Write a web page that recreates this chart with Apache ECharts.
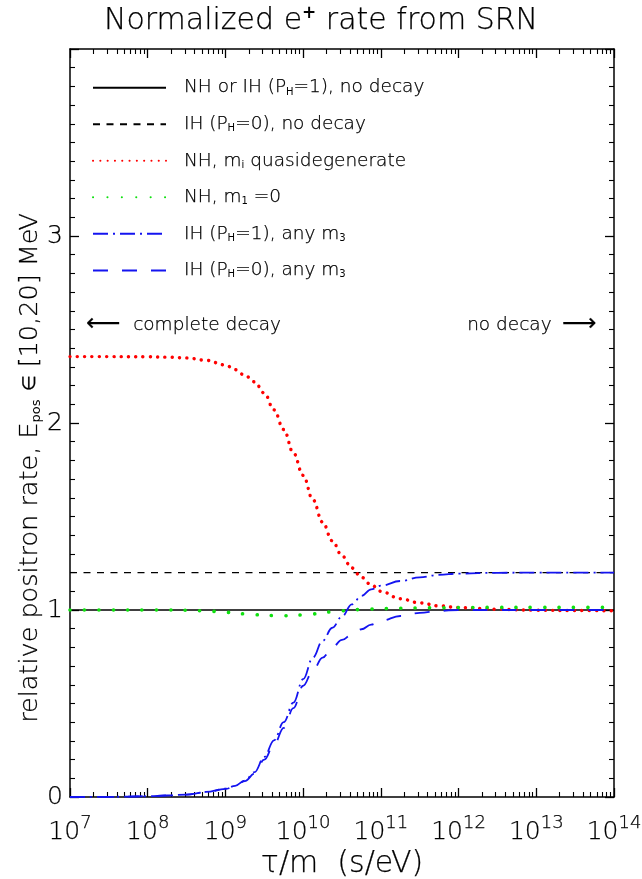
<!DOCTYPE html>
<html><head><meta charset="utf-8">
<script src="https://cdn.jsdelivr.net/npm/echarts@6/dist/echarts.min.js"></script>
<style>html,body{margin:0;padding:0;background:#fff}#c{width:642px;height:879px}</style>
</head><body><div id="c"></div>
<script>
// log10 of tau/m (s/eV) sample grid
const tauExp = [7, 7.5, 8, 8.25, 8.5, 8.75, 9, 9.125, 9.25, 9.375, 9.5, 9.625, 9.75, 9.875, 10, 10.125, 10.25, 10.375, 10.5, 10.625, 10.75, 10.875, 11, 11.25, 11.5, 11.75, 12, 12.5, 13, 13.5, 14];
const nhQuasi = [2.355, 2.355, 2.354, 2.352, 2.348, 2.335, 2.31, 2.285, 2.255, 2.22, 2.16, 2.07, 1.965, 1.84, 1.72, 1.59, 1.47, 1.37, 1.29, 1.225, 1.175, 1.135, 1.10, 1.06, 1.038, 1.022, 1.013, 1.004, 0.999, 0.997, 0.996];
const nhZero = [1.0, 1.0, 1.0, 1.0, 0.999, 0.995, 0.988, 0.984, 0.979, 0.975, 0.972, 0.97, 0.969, 0.970, 0.974, 0.979, 0.985, 0.991, 0.996, 1.0, 1.003, 1.005, 1.007, 1.009, 1.011, 1.012, 1.013, 1.014, 1.014, 1.014, 1.014];
const ihP1 = [0.0, 0.001, 0.004, 0.008, 0.013, 0.027, 0.045, 0.06, 0.088, 0.133, 0.215, 0.303, 0.40, 0.505, 0.63, 0.745, 0.835, 0.905, 0.965, 1.03, 1.075, 1.11, 1.13, 1.155, 1.174, 1.188, 1.195, 1.199, 1.2, 1.2, 1.2];
const ihP0 = [0.0, 0.001, 0.004, 0.008, 0.013, 0.026, 0.043, 0.058, 0.085, 0.125, 0.2, 0.28, 0.37, 0.475, 0.595, 0.675, 0.745, 0.80, 0.84, 0.868, 0.897, 0.922, 0.942, 0.968, 0.985, 0.995, 1.0, 1.0, 1.0, 1.0, 1.0];
// no-decay reference lines
const flatTau = [1e7, 1e14];
const noDecayNH = [1.0, 1.0];
const noDecayIH0 = [1.2, 1.2];
const yTicks = ['0', '1', '2', '3'];
const xTickExps = [7, 8, 9, 10, 11, 12, 13, 14];

const names = [
  'NH or IH (PH=1), no decay',
  'IH (PH=0), no decay',
  'NH, mi quasidegenerate',
  'NH, m1 =0',
  'IH (PH=1), any m3',
  'IH (PH=0), any m3'
];
const richNames = {
  [names[0]]: '{sp| }{a|NH or IH (P}{s|H}{a|=1), no decay}',
  [names[1]]: '{sp| }{a|IH (P}{s|H}{a|=0), no decay}',
  [names[2]]: '{sp| }{a|NH, m}{s|i}{a| quasidegenerate}',
  [names[3]]: '{sp| }{a|NH, m}{s|1}{a| =0}',
  [names[4]]: '{sp| }{a|IH (P}{s|H}{a|=1), any m}{s|3}',
  [names[5]]: '{sp| }{a|IH (P}{s|H}{a|=0), any m}{s|3}'
};

const FONT = 'DejaVu Sans';
const W = 200;
const TXT = '#000';
const BW = 0.25; // slight stroke to darken thin glyphs
const toPts = (xs, ys) => xs.map((e, i) => [Math.pow(10, e), ys[i]]);
const flat = (ys) => flatTau.map((t, i) => [t, ys[i]]);
// echarts component text style
const ts = (size, extra) => Object.assign({fontFamily: FONT, fontSize: size, fontWeight: W, color: TXT, textBorderColor: TXT, textBorderWidth: BW}, extra || {});
// zrender (graphic) text style
const gs = (size, extra) => Object.assign({fontFamily: FONT, fontSize: size, fontWeight: W, fill: TXT, stroke: TXT, lineWidth: BW}, extra || {});

const chart = echarts.init(document.getElementById('c'), null, {renderer: 'canvas'});
const axCol = '#000';
const baseX = {
  type: 'log', logBase: 10, min: 1e7, max: 1e14, splitNumber: 7,
  axisLine: {show: true, onZero: false, lineStyle: {color: axCol, width: 1.5}},
  axisTick: {show: true, inside: true, length: 9, lineStyle: {color: axCol, width: 1.3}},
  minorTick: {show: true, splitNumber: 9, length: 5, lineStyle: {color: axCol, width: 1.1}},
  splitLine: {show: false}, minorSplitLine: {show: false}
};
const baseY = {
  type: 'value', min: 0, max: 4, interval: 1,
  axisLine: {show: true, onZero: false, lineStyle: {color: axCol, width: 1.5}},
  axisTick: {show: true, inside: true, length: 9, lineStyle: {color: axCol, width: 1.3}},
  minorTick: {show: true, splitNumber: 10, length: 5, lineStyle: {color: axCol, width: 1.1}},
  splitLine: {show: false}, minorSplitLine: {show: false}
};

const option = {
  backgroundColor: '#fff',
  animation: false,
  title: {
    text: '{t|Normalized e}{p|+}{t| rate from SRN}',
    left: 'center', top: 0,
    textStyle: {
      rich: {
        t: ts(30),
        p: ts(17, {fontWeight: 'bold', textBorderWidth: 0, padding: [0, 0, 16, 0]})
      }
    }
  },
  grid: {left: 70, right: 28, top: 49, bottom: 82, containLabel: false, outerBoundsMode: 'none'},
  legend: {
    show: true, orient: 'vertical', left: 92, top: 78, padding: 0,
    itemWidth: 73, itemHeight: 20, itemGap: 17.3,
    data: names,
    itemStyle: {opacity: 0},
    formatter: (n) => richNames[n],
    textStyle: {
      color: TXT,
      rich: {
        sp: {width: 13, fontSize: 10},
        a: ts(18.5, {lineHeight: 22}),
        s: ts(10, {fontWeight: 'normal', textBorderWidth: 0, padding: [9, 0, 0, 0]})
      }
    }
  },
  xAxis: [
    Object.assign({}, baseX, {
      position: 'bottom',
      name: 'τ/m  (s/eV)', nameLocation: 'middle', nameGap: 46,
      nameTextStyle: ts(30),
      axisLabel: {
        show: true, margin: 17, showMinLabel: true, showMaxLabel: true,
        formatter: (v) => {
          const e = Math.round(Math.log10(v));
          return xTickExps.indexOf(e) >= 0 ? '{b|10}{e|' + e + '}' : '';
        },
        rich: {
          b: ts(25),
          e: ts(18, {padding: [0, 0, 18, 0]})
        }
      }
    }),
    Object.assign({}, baseX, {position: 'top', axisLabel: {show: false}})
  ],
  yAxis: [
    Object.assign({}, baseY, {
      position: 'left',
      axisLabel: Object.assign({show: true, margin: 7, formatter: (v) => (v < yTicks.length ? yTicks[v] : '')}, ts(25))
    }),
    Object.assign({}, baseY, {position: 'right', axisLabel: {show: false}})
  ],
  graphic: [
    {type: 'text', x: 30, y: 468, rotation: Math.PI / 2,
     style: {
       text: '{a|relative positron rate, E}{s|pos}{a| }{m|∈}{a| [10,20] MeV}',
       align: 'center', verticalAlign: 'middle',
       rich: {
         a: gs(25.5),
         m: gs(18),
         s: gs(13, {fontWeight: 'normal', lineWidth: 0, padding: [13, 0, 0, 0]})
       }
     }},
    {type: 'text', left: 86, top: 313, style: gs(24, {text: '⟵'})},
    {type: 'text', left: 133, top: 316, style: gs(18.5, {text: 'complete decay'})},
    {type: 'text', left: 467, top: 316, style: gs(18.5, {text: 'no decay'})},
    {type: 'text', left: 562, top: 313, style: gs(24, {text: '⟶'})}
  ],
  series: [
    {name: names[0], type: 'line', data: flat(noDecayNH), showSymbol: false, symbol: 'none',
     lineStyle: {color: '#000', width: 1.5, type: 'solid'}, itemStyle: {color: '#000'}, z: 3},
    {name: names[1], type: 'line', data: flat(noDecayIH0), showSymbol: false, symbol: 'none',
     lineStyle: {color: '#000', width: 1.4, type: [7, 6.5]}, itemStyle: {color: '#000'}, z: 3},
    {name: names[2], type: 'line', data: toPts(tauExp, nhQuasi), showSymbol: false, symbol: 'none', smooth: 0.4, smoothMonotone: 'x',
     lineStyle: {color: '#ff0000', width: 3.4, type: [0.1, 7.2], cap: 'round'}, itemStyle: {color: '#ff0000'}, z: 4},
    {name: names[3], type: 'line', data: toPts(tauExp, nhZero), showSymbol: false, symbol: 'none', smooth: 0.4, smoothMonotone: 'x',
     lineStyle: {color: '#10e010', width: 3.6, type: [0.1, 14.3], cap: 'round'}, itemStyle: {color: '#10e010'}, z: 4},
    {name: names[4], type: 'line', data: toPts(tauExp, ihP1), showSymbol: false, symbol: 'none', smooth: 0.4, smoothMonotone: 'x',
     lineStyle: {color: '#1414f0', width: 1.8, type: [15, 5, 2, 5]}, itemStyle: {color: '#1414f0'}, z: 5},
    {name: names[5], type: 'line', data: toPts(tauExp, ihP0), showSymbol: false, symbol: 'none', smooth: 0.4, smoothMonotone: 'x',
     lineStyle: {color: '#1414f0', width: 1.8, type: [15, 14]}, itemStyle: {color: '#1414f0'}, z: 5}
  ]
};
chart.setOption(option);
</script>
</body></html>
